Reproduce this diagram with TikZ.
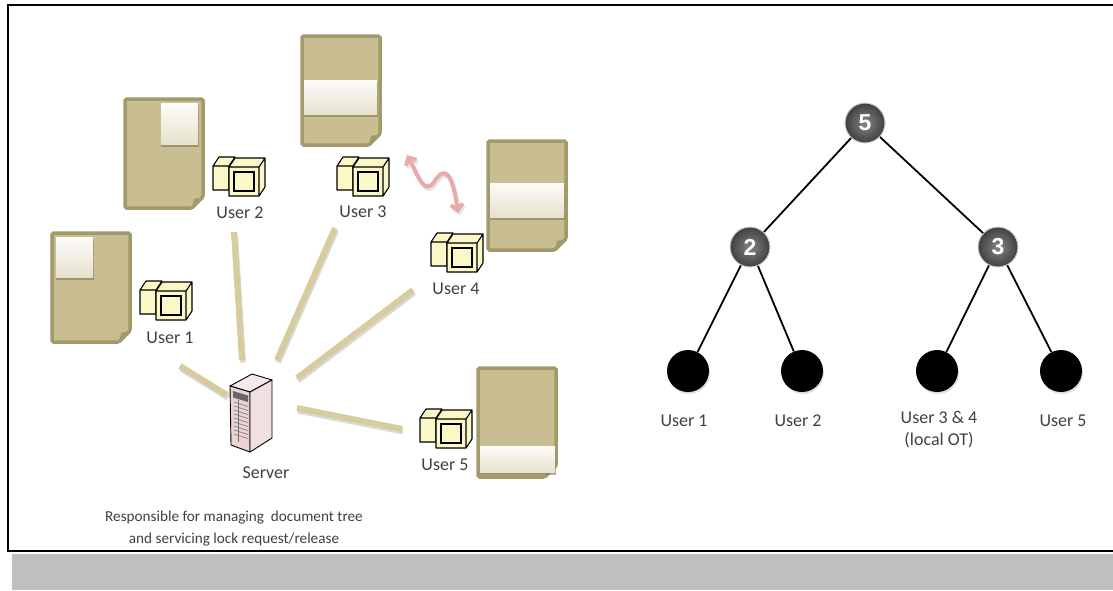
\documentclass[tikz,border=0pt]{standalone}
\usepackage{fontspec}
\setmainfont{Carlito}
\newfontfamily\numfont{Liberation Sans}
\usetikzlibrary{arrows.meta,shadows}

\definecolor{paper}{HTML}{C8BE91}
\definecolor{paperedge}{HTML}{A39A6C}
\definecolor{spokecol}{HTML}{D6CC9E}
\definecolor{screen}{HTML}{FAF8C6}
\definecolor{tower}{HTML}{EBD3D3}
\definecolor{wavecol}{HTML}{EBA9AA}
\definecolor{txt}{HTML}{404040}

\tikzset{
  computer/.pic={
    \filldraw[fill=screen, line width=1.1pt, line join=round]
      (0,13) -- (6,4) -- (22,4) -- (16,13) -- cycle
      (0,13) rectangle (16,37);
    \filldraw[fill=screen, line width=1.1pt, line join=round]
      (16,14) -- (22,5) -- (52,5) -- (46,14) -- cycle
      (46,14) -- (52,5) -- (52,34) -- (46,43) -- cycle
      (16,14) rectangle (46,43);
    \draw[line width=1.7pt] (21,19) rectangle (41,38);
  },
  server/.pic={
    \filldraw[fill=tower!50!white, line width=.9pt, line join=round]
      (0,14) -- (22,2) -- (42,8) -- (20,20) -- cycle;
    \filldraw[fill=tower, line width=.9pt, line join=round]
      (0,14) -- (20,20) -- (20,80) -- (1,73) -- cycle;
    \filldraw[fill=tower!70!white, line width=.9pt, line join=round]
      (20,20) -- (42,8) -- (42,66) -- (20,80) -- cycle;
    \fill[black!60] (3,19) -- (18,23.5) -- (18,30) -- (3,25.5) -- cycle;
    \foreach \k in {0,...,8}
      \draw[black!55, line width=.6pt] (4,30+4*\k) -- (18,34.5+4*\k);
    \draw[black!55, line width=.6pt] (8,28) -- (8,70);
  }
}

\newcommand\docpage[2]{%
  \filldraw[fill=paper, draw=paperedge, line width=3.5pt, rounded corners=1.5pt]
    (#1,#2) -- ++(78,0) -- ++(0,98) -- ++(-11,11) -- ++(-67,0) -- cycle;
  \fill[paperedge] (#1+67,#2+109) -- (#1+69,#2+100) -- (#1+78,#2+98) -- cycle;
}
\newcommand\highlight[4]{%
  \fill[paperedge!80!black, opacity=.6] (#1,#2+2) rectangle (#3+1,#4+2.5);
  \shade[top color=white!95!paper, bottom color=white!55!paper] (#1,#2) rectangle (#3,#4);
}

\begin{document}
\begin{tikzpicture}[x=1pt, y=-1pt,
  every node/.style={text=txt, font=\fontsize{18}{22}\selectfont, inner sep=1pt},
  spoke/.style={line width=6pt, draw=spokecol,
    preaction={draw=black!50, opacity=.3, line width=6pt,
      transform canvas={shift={(1pt,-2.5pt)}}}},
  wave/.style={line width=4pt, draw=wavecol,
    arrows={Straight Barb[length=6pt,width=12pt]-Straight Barb[length=6pt,width=12pt]},
    preaction={draw=black!50, opacity=.2, line width=4pt,
      transform canvas={shift={(1.5pt,-2.5pt)}}}},
  inner/.style={circle, draw=black!20, line width=1pt, minimum size=40pt, inner sep=0pt,
    inner color=black!48, outer color=black!75, text=white,
    font=\numfont\bfseries\fontsize{23}{23}\selectfont},
  leaf/.style={circle, fill=black, minimum size=42pt, inner sep=0pt,
    drop shadow={opacity=.25, shadow xshift=1pt, shadow yshift=-2pt}},
  edge/.style={line width=1.8pt}]
  \useasboundingbox (0,0) rectangle (1113,590);
  \fill[black!25] (12,554) rectangle (1113,590);
  \draw[line width=2.5pt] (8,5) rectangle (1130,551);

  \docpage{52}{233}   \highlight{56}{237}{93}{277}
  \docpage{125}{99}   \highlight{161}{103}{198}{144}
  \docpage{302}{36}   \highlight{304}{80}{377}{114}
  \docpage{488}{141}  \highlight{490}{183}{564}{217}
  \docpage{478}{368}  \highlight{480}{446}{555}{472}

  \foreach \i/\ax/\ay/\bx/\by in {1/180/366/227/395, 2/234/232/242/360,
      3/335/228/277/360, 4/413/290/297/378, 5/402/429/297/408} {
    \coordinate (s\i) at (\ax,\ay);
    \coordinate (e\i) at (\bx,\by);
    \draw[spoke] (s\i) -- (e\i);
  }

  \pic (c1) at (140,277) {computer};
  \pic (c2) at (213,153) {computer};
  \pic (c3) at (337,153) {computer};
  \pic (c4) at (431,229) {computer};
  \pic (c5) at (420,405) {computer};
  \pic (srv) at (230,372) {server};

  \node (u1) at (170,338) {User 1};
  \node (u2) at (240,213) {User 2};
  \node (u3) at (363,212) {User 3};
  \node (u4) at (456,289) {User 4};
  \node (u5) at (445,465) {User 5};
  \node (srvlabel) at (266,473) {Server};
  \node[align=center, font=\fontsize{15.2}{22}\selectfont] (note) at (234,529)
    {Responsible for managing~ document tree\\and servicing lock request/release};

  \coordinate (w1) at (407,155);
  \coordinate (w2) at (458,213);
  \draw[wave] (w1) .. controls (418,175) and (424,196) .. (434,182)
    .. controls (444,166) and (452,170) .. (w2);

  \node[inner] (n5) at (865,123) {5};
  \node[inner] (n2) at (750,247) {2};
  \node[inner] (n3) at (998,247) {3};
  \node[leaf] (l1) at (688,371) {};
  \node[leaf] (l2) at (802,371) {};
  \node[leaf] (l3) at (937,371) {};
  \node[leaf] (l4) at (1061,371) {};
  \draw[edge] (n5) -- (n2); \draw[edge] (n5) -- (n3);
  \draw[edge] (n2) -- (l1); \draw[edge] (n2) -- (l2);
  \draw[edge] (n3) -- (l3); \draw[edge] (n3) -- (l4);
  \node (t1) at (684,421) {User 1};
  \node (t2) at (798,421) {User 2};
  \node[align=center, anchor=north, font=\fontsize{18}{22}\selectfont] (t3) at (939,410)
    {User 3 \& 4\\(local OT)};
  \node (t4) at (1063,421) {User 5};
\end{tikzpicture}
\end{document}
